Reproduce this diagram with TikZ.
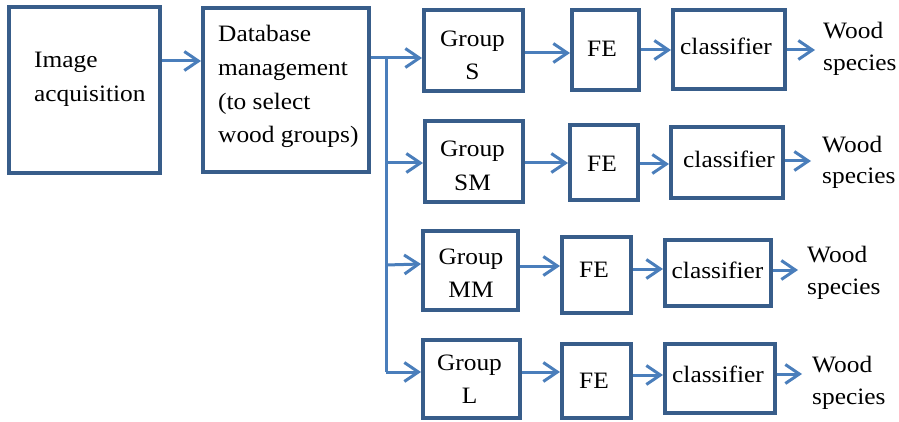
\documentclass[tikz,border=0pt]{standalone}
\usepackage{fontspec}
\setmainfont{Liberation Serif}[FakeStretch=1.08]
\usetikzlibrary{arrows.meta}
\definecolor{boxc}{HTML}{385D8A}
\definecolor{arrc}{HTML}{4A7EBB}
\tikzset{
  box/.style={draw=boxc, line width=4pt, fill=white, inner sep=0pt},
  arr/.style={draw=arrc, line width=3pt, -{Straight Barb[length=14pt,width=19pt,line width=3pt]}},
  ln/.style={draw=arrc, line width=3pt},
  lbl/.style={inner sep=0pt, font=\fontsize{23.5}{33}\selectfont, align=center},
  lbll/.style={inner sep=0pt, font=\fontsize{23.5}{32}\selectfont, align=left},
}
\begin{document}
\begin{tikzpicture}[x=1pt,y=-1pt]
\useasboundingbox (0,0) rectangle (899,422);
% left boxes
\node[box, minimum width=151pt, minimum height=166pt] (img) at (84.5,90) {};
\node[box, minimum width=166pt, minimum height=164pt] (db) at (286,90) {};
\node[lbll, font=\fontsize{23.5}{34}\selectfont, anchor=base west] (imgt) at (34,102) {Image\\acquisition};
\node[lbll, font=\fontsize{23.5}{33.7}\selectfont, anchor=base west] (dbt) at (218,143) {Database\\management\\(to select\\wood groups)};
% row S
\node[box, minimum width=99pt, minimum height=81pt] (gs) at (473.5,50.5) {};
\node[box, minimum width=67pt, minimum height=80pt] (fes) at (605.5,50) {};
\node[box, minimum width=112pt, minimum height=79pt] (cls) at (729,49.5) {};
\node[lbl, anchor=base] (gst) at (472.5,80) {Group\\S};
\node[lbl, anchor=base] (fest) at (602,57) {FE};
\node[lbl, anchor=base] (clst) at (726,55) {classifier};
\node[lbll, anchor=base west] (ws) at (823,71) {Wood\\species};
% row SM
\node[box, minimum width=98pt, minimum height=81pt] (gsm) at (474,161.5) {};
\node[box, minimum width=68pt, minimum height=75pt] (fesm) at (604,162.5) {};
\node[box, minimum width=112pt, minimum height=71pt] (clsm) at (727,162.5) {};
\node[lbl, anchor=base] (gsmt) at (472.5,190) {Group\\SM};
\node[lbl, anchor=base] (fesmt) at (602,172) {FE};
\node[lbl, anchor=base] (clsmt) at (729,168) {classifier};
\node[lbll, anchor=base west] (wsm) at (822,184) {Wood\\species};
% row MM
\node[box, minimum width=95pt, minimum height=79pt] (gmm) at (470.5,270.5) {};
\node[box, minimum width=69pt, minimum height=76pt] (femm) at (596.5,275) {};
\node[box, minimum width=106pt, minimum height=66pt] (clmm) at (718,273) {};
\node[lbl, anchor=base] (gmmt) at (471,297) {Group\\MM};
\node[lbl, anchor=base] (femmt) at (594,277) {FE};
\node[lbl, anchor=base] (clmmt) at (717.5,278) {classifier};
\node[lbll, anchor=base west] (wmm) at (807,294) {Wood\\species};
% row L
\node[box, minimum width=97pt, minimum height=78pt] (gl) at (471.5,379) {};
\node[box, minimum width=69pt, minimum height=74pt] (fel) at (596.5,381) {};
\node[box, minimum width=110pt, minimum height=69pt] (cll) at (720,378.5) {};
\node[lbl, anchor=base] (glt) at (469.5,403) {Group\\L};
\node[lbl, anchor=base] (felt) at (594,388) {FE};
\node[lbl, anchor=base] (cllt) at (718,382) {classifier};
\node[lbll, anchor=base west] (wl) at (812,404) {Wood\\species};
% connectors
\coordinate (j) at (386,58);
\coordinate (jb) at (386,372);
\draw[arr] (img.east |- 0,61) -- (db.west |- 0,61);
\draw[ln] (db.east |- j) -- (j) -- (jb);
\draw[arr] (j) -- (gs.west |- j);
\draw[arr] (j |- 0,163) -- (gsm.west |- 0,163);
\draw[arr] (j |- 0,265) -- (gmm.west |- 0,264);
\draw[arr] (jb) -- (gl.west |- jb);
% row arrows
\draw[arr] (gs.east |- 0,53) -- (fes.west |- 0,53);
\draw[arr] (fes.east |- 0,50) -- (cls.west |- 0,50);
\draw[arr, shorten >=8pt] (cls.east |- 0,50) -- (ws.west |- 0,50);
\draw[arr] (gsm.east |- 0,163) -- (fesm.west |- 0,163);
\draw[arr] (fesm.east |- 0,164) -- (clsm.west |- 0,164);
\draw[arr, shorten >=11pt] (clsm.east |- 0,161) -- (wsm.west |- 0,161);
\draw[arr] (gmm.east |- 0,266) -- (femm.west |- 0,266);
\draw[arr] (femm.east |- 0,269) -- (clmm.west |- 0,269);
\draw[arr, shorten >=9pt] (clmm.east |- 0,270) -- (wmm.west |- 0,270);
\draw[arr] (gl.east |- 0,372) -- (fel.west |- 0,372);
\draw[arr] (fel.east |- 0,375) -- (cll.west |- 0,375);
\draw[arr, shorten >=10pt] (cll.east |- 0,374) -- (wl.west |- 0,374);
\end{tikzpicture}
\end{document}
